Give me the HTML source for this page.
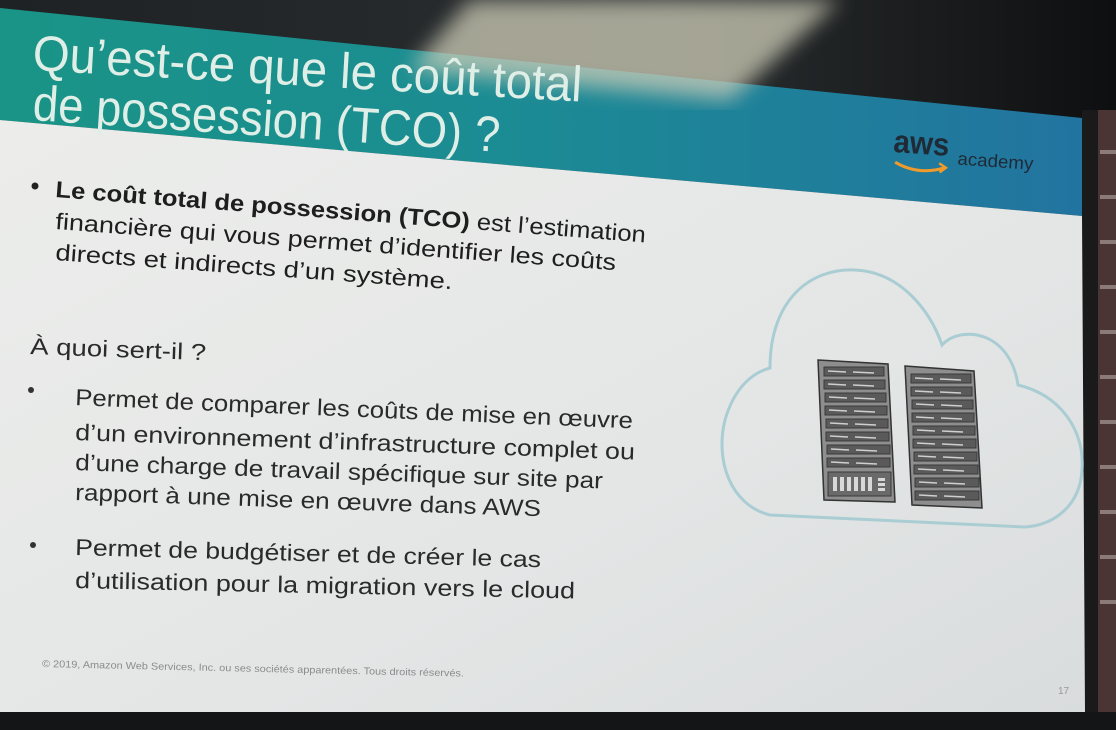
<!DOCTYPE html>
<html><head><meta charset="utf-8"><style>
html,body{margin:0;padding:0;background:#151719;}
svg{display:block}
text{font-family:"Liberation Sans Narrow","Liberation Sans",sans-serif;}
</style></head><body>
<svg width="1116" height="730" viewBox="0 0 1116 730" xmlns="http://www.w3.org/2000/svg">
<defs>
<linearGradient id="band" x1="0" y1="0" x2="1" y2="0">
<stop offset="0" stop-color="#1a9486"/><stop offset="0.45" stop-color="#1b8c93"/><stop offset="1" stop-color="#2274a0"/>
</linearGradient>
<linearGradient id="slide" x1="0" y1="0" x2="1" y2="1">
<stop offset="0" stop-color="#ecedeb"/><stop offset="0.6" stop-color="#e4e6e6"/><stop offset="1" stop-color="#d9dcdd"/>
</linearGradient>
<linearGradient id="top" x1="0" y1="0" x2="1" y2="0">
<stop offset="0" stop-color="#1e2224"/><stop offset="0.6" stop-color="#2a2e30"/><stop offset="1" stop-color="#0e0f10"/>
</linearGradient>
<filter id="blur"><feGaussianBlur stdDeviation="10"/></filter>
</defs>
<rect width="1116" height="730" fill="url(#top)"/>
<!-- brick -->
<rect x="1098" y="110" width="18" height="620" fill="#4a3434"/>
<g fill="#8a7a78">
<rect x="1100" y="150" width="16" height="4"/><rect x="1100" y="195" width="16" height="4"/><rect x="1100" y="240" width="16" height="4"/><rect x="1100" y="285" width="16" height="4"/><rect x="1100" y="330" width="16" height="4"/><rect x="1100" y="375" width="16" height="4"/><rect x="1100" y="420" width="16" height="4"/><rect x="1100" y="465" width="16" height="4"/><rect x="1100" y="510" width="16" height="4"/><rect x="1100" y="555" width="16" height="4"/><rect x="1100" y="600" width="16" height="4"/>
</g>
<rect x="1082" y="110" width="16" height="620" fill="#1a1a1b"/>
<!-- band -->
<polygon points="0,8 1082,118 1082,216 0,120" fill="url(#band)"/>
<!-- glare -->
<polygon points="470,0 840,0 730,100 410,70" fill="#cfcdb8" opacity="0.75" filter="url(#blur)"/>
<!-- slide -->
<polygon points="0,120 1082,216 1085,712 0,712" fill="url(#slide)"/>
<rect x="0" y="712" width="1116" height="18" fill="#141516"/>

<!-- title -->
<text x="32" y="70" font-size="50" fill="#dfeee6" textLength="550" lengthAdjust="spacingAndGlyphs" transform="rotate(3.3 32 70)">Qu’est-ce que le coût total</text>
<text x="32" y="120" font-size="50" fill="#dfeee6" textLength="468" lengthAdjust="spacingAndGlyphs" transform="rotate(3.9 32 120)">de possession (TCO) ?</text>

<!-- aws logo -->
<g transform="rotate(4 893 150)">
<text x="893" y="152" font-size="32" font-weight="bold" fill="#1f2a36" textLength="56" lengthAdjust="spacingAndGlyphs">aws</text>
<text x="958" y="160" font-size="18" fill="#1f2a36" textLength="76" lengthAdjust="spacingAndGlyphs">academy</text>
<path d="M896 162 Q920 174 946 164" stroke="#f09a2b" stroke-width="3" fill="none"/>
<path d="M940 160 L947 164 L941 169" stroke="#f09a2b" stroke-width="2.5" fill="none"/>
</g>

<!-- bullet 1 -->
<circle cx="35" cy="186" r="3.5" fill="#222"/>
<g fill="#1e1e1e" font-size="23">
<text x="55" y="197" textLength="592" lengthAdjust="spacingAndGlyphs" transform="rotate(4.4 55 197)"><tspan font-weight="bold">Le coût total de possession (TCO)</tspan> est l’estimation</text>
<text x="55" y="229" textLength="562" lengthAdjust="spacingAndGlyphs" transform="rotate(4.2 55 229)">financière qui vous permet d’identifier les coûts</text>
<text x="55" y="260" textLength="398" lengthAdjust="spacingAndGlyphs" transform="rotate(4.2 55 260)">directs et indirects d’un système.</text>
</g>
<g fill="#2a2a2a" font-size="23">
<text x="30" y="354" textLength="176" lengthAdjust="spacingAndGlyphs" transform="rotate(2 30 354)">À quoi sert-il ?</text>
<circle cx="31" cy="390" r="3" fill="#333"/>
<text x="75" y="405" textLength="558" lengthAdjust="spacingAndGlyphs" transform="rotate(2.4 75 405)">Permet de comparer les coûts de mise en œuvre</text>
<text x="75" y="440" textLength="560" lengthAdjust="spacingAndGlyphs" transform="rotate(2 75 440)">d’un environnement d’infrastructure complet ou</text>
<text x="75" y="470" textLength="528" lengthAdjust="spacingAndGlyphs" transform="rotate(2 75 470)">d’une charge de travail spécifique sur site par</text>
<text x="75" y="500" textLength="466" lengthAdjust="spacingAndGlyphs" transform="rotate(2 75 500)">rapport à une mise en œuvre dans AWS</text>
<circle cx="33" cy="545" r="3" fill="#333"/>
<text x="75" y="555" textLength="466" lengthAdjust="spacingAndGlyphs" transform="rotate(1.5 75 555)">Permet de budgétiser et de créer le cas</text>
<text x="75" y="588" textLength="500" lengthAdjust="spacingAndGlyphs" transform="rotate(1.2 75 588)">d’utilisation pour la migration vers le cloud</text>
</g>
<text x="42" y="667" font-size="10" fill="#8a8c8c" textLength="422" lengthAdjust="spacingAndGlyphs" transform="rotate(1.3 42 667)">© 2019, Amazon Web Services, Inc. ou ses sociétés apparentées. Tous droits réservés.</text>
<text x="1058" y="694" font-size="10" fill="#999">17</text>

<!-- cloud -->
<path d="M770,515 C730,505 715,460 725,420 C735,385 755,372 770,368 C770,300 810,268 855,270 C900,272 930,310 942,345 C960,325 1010,330 1018,385 C1060,395 1085,430 1082,470 C1080,505 1055,525 1025,527 Z" fill="none" stroke="#a9cdd3" stroke-width="3"/>

<!-- racks -->
<g stroke="#333" stroke-width="1.5">
<polygon points="818,360 888,364 895,502 824,500" fill="#8e8e8e"/>
<polygon points="905,366 974,371 982,508 912,505" fill="#8e8e8e"/>
</g>
<g id="slotsL" fill="#5a5a5a" stroke="#3a3a3a" stroke-width="1">
<rect x="824" y="367" width="60" height="9"/><rect x="824" y="380" width="61" height="9"/><rect x="825" y="393" width="61" height="9"/><rect x="825" y="406" width="62" height="9"/><rect x="826" y="419" width="62" height="9"/><rect x="826" y="432" width="63" height="9"/><rect x="827" y="445" width="63" height="9"/><rect x="827" y="458" width="63" height="9"/><rect x="828" y="472" width="63" height="24" fill="#6a6a6a"/>
</g>
<g fill="#5a5a5a" stroke="#3a3a3a" stroke-width="1">
<rect x="911" y="374" width="60" height="9"/><rect x="911" y="387" width="61" height="9"/><rect x="912" y="400" width="61" height="9"/><rect x="912" y="413" width="62" height="9"/><rect x="913" y="426" width="62" height="9"/><rect x="913" y="439" width="63" height="9"/><rect x="914" y="452" width="63" height="9"/><rect x="914" y="465" width="64" height="9"/><rect x="915" y="478" width="64" height="9"/><rect x="915" y="491" width="64" height="9"/>
</g>
<g stroke="#cfcfcf" stroke-width="1.5">
<line x1="828" y1="371" x2="846" y2="372"/><line x1="853" y1="372" x2="874" y2="373"/>
<line x1="828" y1="384" x2="846" y2="385"/><line x1="853" y1="385" x2="874" y2="386"/>
<line x1="829" y1="397" x2="847" y2="398"/><line x1="854" y1="398" x2="875" y2="399"/>
<line x1="829" y1="410" x2="847" y2="411"/><line x1="854" y1="411" x2="875" y2="412"/>
<line x1="830" y1="423" x2="848" y2="424"/><line x1="855" y1="424" x2="876" y2="425"/>
<line x1="830" y1="436" x2="848" y2="437"/><line x1="855" y1="437" x2="876" y2="438"/>
<line x1="831" y1="449" x2="849" y2="450"/><line x1="856" y1="450" x2="877" y2="451"/>
<line x1="831" y1="462" x2="849" y2="463"/><line x1="856" y1="463" x2="877" y2="464"/>
<line x1="915" y1="378" x2="933" y2="379"/><line x1="940" y1="379" x2="961" y2="380"/>
<line x1="915" y1="391" x2="933" y2="392"/><line x1="940" y1="392" x2="961" y2="393"/>
<line x1="916" y1="404" x2="934" y2="405"/><line x1="941" y1="405" x2="962" y2="406"/>
<line x1="916" y1="417" x2="934" y2="418"/><line x1="941" y1="418" x2="962" y2="419"/>
<line x1="917" y1="430" x2="935" y2="431"/><line x1="942" y1="431" x2="963" y2="432"/>
<line x1="917" y1="443" x2="935" y2="444"/><line x1="942" y1="444" x2="963" y2="445"/>
<line x1="918" y1="456" x2="936" y2="457"/><line x1="943" y1="457" x2="964" y2="458"/>
<line x1="918" y1="469" x2="936" y2="470"/><line x1="943" y1="470" x2="964" y2="471"/>
<line x1="919" y1="482" x2="937" y2="483"/><line x1="944" y1="483" x2="965" y2="484"/>
<line x1="919" y1="495" x2="937" y2="496"/><line x1="944" y1="496" x2="965" y2="497"/>
</g>
<g fill="#d8d8d8">
<rect x="833" y="477" width="4" height="14"/><rect x="840" y="477" width="4" height="14"/><rect x="847" y="477" width="4" height="14"/><rect x="854" y="477" width="4" height="14"/><rect x="861" y="477" width="4" height="14"/><rect x="868" y="477" width="4" height="14"/>
<rect x="878" y="478" width="7" height="3"/><rect x="878" y="483" width="7" height="3"/><rect x="878" y="488" width="7" height="3"/>
</g>
</svg>
</body></html>
